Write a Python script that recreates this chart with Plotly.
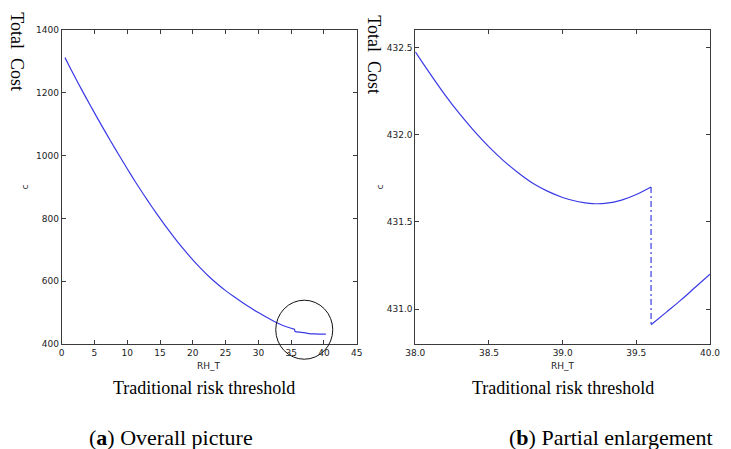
import plotly.graph_objects as go

# ---------------- data ----------------
# (a) overall picture
rh_all = [0.5, 1.5, 2.5, 3.75, 5, 6.25, 7.5, 8.75, 10, 11.25, 12.5, 13.75, 15, 16.25,
          17.5, 18.75, 20, 21.25, 22.5, 23.75, 25, 26.25, 27.5, 28.75, 30, 31.25,
          32.5, 33.75, 35.0, 35.5, 35.6, 36.5, 37.5, 38.5, 39.5, 40.3]
cost_all = [1312, 1271, 1231, 1183, 1136, 1090, 1045, 1001, 958, 916, 876, 837, 800, 764,
            730, 698, 668, 640, 614, 591, 570, 551, 533, 516, 500, 485,
            471, 459, 450, 447, 440, 437, 434, 432.0, 431.6, 431.5]

# (b) partial enlargement: branch before and after the jump at 39.6
rh_left = [38.0, 38.1, 38.2, 38.3, 38.4, 38.5, 38.6, 38.7, 38.8, 38.9, 39.0,
           39.1, 39.2, 39.3, 39.4, 39.5, 39.6]
cost_left = [432.475, 432.35, 432.23, 432.12, 432.02, 431.93, 431.85, 431.78, 431.72, 431.675,
             431.64, 431.617, 431.605, 431.607, 431.625, 431.657, 431.70]
rh_right = [39.6, 39.7, 39.8, 39.9, 40.0]
cost_right = [430.91, 430.98, 431.05, 431.125, 431.20]

xticks_a = [0, 5, 10, 15, 20, 25, 30, 35, 40, 45]
yticks_a = [400, 600, 800, 1000, 1200, 1400]
xticks_b = [38.0, 38.5, 39.0, 39.5, 40.0]
yticks_b = [431.0, 431.5, 432.0, 432.5]

# highlighted region in (a)
circle_center = (37.0, 445.5)

# ---------------- layout geometry ----------------
# the page body adds an 8px offset; the figure is sized to fill the rest of the window
OFF = 8
W, H = 731 - OFF, 449 - OFF


def px(x):
    return (x - OFF) / W


def py(y):
    return 1 - (y - OFF) / H


dom_xa = [px(61.7), px(356.7)]
dom_xb = [px(415.3), px(710.0)]
dom_y = [py(344), py(30)]
range_xa = [0, 45]
range_ya = [400, 1400]
range_xb = [38, 40]
range_yb = [430.8, 432.6]

LINE = "#3a3ae6"
FRAME = "#3a3a3a"
TICKFONT = dict(family="DejaVu Sans", size=9, color="#222222")
SERIF = "Liberation Serif"

fig = go.Figure()
fig.add_trace(go.Scatter(x=rh_all, y=cost_all, mode="lines", xaxis="x", yaxis="y",
                         line=dict(color=LINE, width=1.2, shape="spline", smoothing=0.6),
                         showlegend=False))
fig.add_trace(go.Scatter(x=rh_left, y=cost_left, mode="lines", xaxis="x2", yaxis="y2",
                         line=dict(color=LINE, width=1.2, shape="spline", smoothing=1.0),
                         showlegend=False))
fig.add_trace(go.Scatter(x=[rh_left[-1], rh_right[0]], y=[cost_left[-1], cost_right[0]],
                         mode="lines", xaxis="x2", yaxis="y2",
                         line=dict(color=LINE, width=1.2, dash="6px,3px,2px,3px"),
                         showlegend=False))
fig.add_trace(go.Scatter(x=rh_right, y=cost_right, mode="lines", xaxis="x2", yaxis="y2",
                         line=dict(color=LINE, width=1.2, shape="spline", smoothing=1.0),
                         showlegend=False))

axis_common = dict(showgrid=False, zeroline=False, showline=True, linecolor=FRAME,
                   linewidth=1, mirror="allticks", ticks="inside", ticklen=4,
                   tickcolor=FRAME, tickfont=TICKFONT, automargin=False)

fig.update_layout(
    width=W, height=H, autosize=False,
    margin=dict(l=0, r=0, t=0, b=0, pad=0),
    paper_bgcolor="white", plot_bgcolor="white",
    xaxis=dict(domain=dom_xa, range=range_xa, tickvals=xticks_a, anchor="y", **axis_common),
    yaxis=dict(domain=dom_y, range=range_ya, tickvals=yticks_a, anchor="x", **axis_common),
    xaxis2=dict(domain=dom_xb, range=range_xb, tickvals=xticks_b, tickformat=".1f",
                anchor="y2", **axis_common),
    yaxis2=dict(domain=dom_y, range=range_yb, tickvals=yticks_b, tickformat=".1f",
                anchor="x2", **axis_common),
)

# circle around the jump region (paper coordinates derived from data coords)
cx = dom_xa[0] + (circle_center[0] - range_xa[0]) / (range_xa[1] - range_xa[0]) * (dom_xa[1] - dom_xa[0])
cy = dom_y[0] + (circle_center[1] - range_ya[0]) / (range_ya[1] - range_ya[0]) * (dom_y[1] - dom_y[0])
rx, ry = 28.5 / W, 29.5 / H
fig.add_shape(type="circle", xref="paper", yref="paper",
              x0=cx - rx, x1=cx + rx, y0=cy - ry, y1=cy + ry,
              line=dict(color="#111111", width=1))

anns = []
# Total Cost labels (vertical)
for x, y in [(17.5, 51.7), (373.7, 55)]:
    anns.append(dict(x=px(x), y=py(y), text="Total\u00a0\u00a0Cost", textangle=90,
                     font=dict(family=SERIF, size=18, color="black")))
# small "c" axis labels
for x in [24.5, 379.5]:
    anns.append(dict(x=px(x), y=py(187), text="c", textangle=-90,
                     font=dict(family="DejaVu Sans", size=9, color="#222222")))
# RH_T labels
for x in [209, 563]:
    anns.append(dict(x=px(x), y=py(366), text="RH_T",
                     font=dict(family="DejaVu Sans", size=9, color="#222222")))
# Traditional risk threshold
for x in [204.5, 563]:
    anns.append(dict(x=px(x), y=py(388), text="Traditional risk threshold",
                     font=dict(family=SERIF, size=18, color="black")))
# captions
anns.append(dict(x=px(170.5), y=py(437), text="(<b>a</b>) Overall picture",
                 font=dict(family=SERIF, size=22, color="black")))
anns.append(dict(x=px(610.5), y=py(437), text="(<b>b</b>) Partial enlargement",
                 font=dict(family=SERIF, size=22, color="black")))

for a in anns:
    a.update(xref="paper", yref="paper", showarrow=False, xanchor="center", yanchor="middle")
fig.update_layout(annotations=anns)

fig.write_html("out.html")
